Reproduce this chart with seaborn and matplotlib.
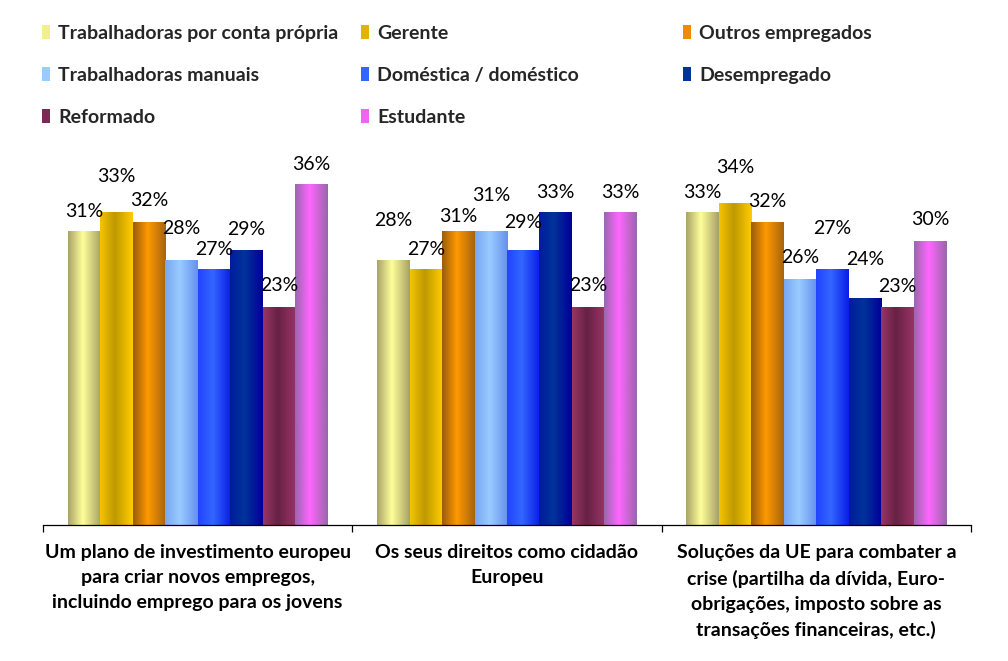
import numpy as np
import pandas as pd
import matplotlib
matplotlib.use("Agg")
import matplotlib.pyplot as plt
from matplotlib.patches import Patch
from matplotlib.colors import to_rgb
import seaborn as sns

# ---------------- data ----------------
categories = [
    "Um plano de investimento europeu\npara criar novos empregos,\nincluindo emprego para os jovens",
    "Os seus direitos como cidadão\nEuropeu",
    "Soluções da UE para combater a\ncrise (partilha da dívida, Euro-\nobrigações, imposto sobre as\ntransações financeiras, etc.)",
]
series = [
    "Trabalhadoras por conta própria", "Gerente", "Outros empregados",
    "Trabalhadoras manuais", "Doméstica / doméstico", "Desempregado",
    "Reformado", "Estudante",
]
trab_conta_propria = [31, 28, 33]
gerente = [33, 27, 34]
outros_empregados = [32, 31, 32]
trab_manuais = [28, 31, 26]
domestica = [27, 29, 27]
desempregado = [29, 33, 24]
reformado = [23, 23, 23]
estudante = [36, 33, 30]
values = [trab_conta_propria, gerente, outros_empregados, trab_manuais,
          domestica, desempregado, reformado, estudante]

# ---------------- styles ----------------
# (left edge, centre, right edge) of each bar's horizontal gradient
gradients = [
    ("#a9a46a", "#ffff99", "#a6a266"),
    ("#f5c400", "#bf9900", "#ffcc00"),
    ("#9a5c0c", "#ff9900", "#a8640e"),
    ("#7aa6f2", "#99ccff", "#6690ee"),
    ("#2244ff", "#3366ff", "#0a1ee6"),
    ("#001c9e", "#003399", "#000099"),
    ("#9a3466", "#662244", "#993366"),
    ("#9a66b0", "#ff66ff", "#9a66aa"),
]
legend_colors = ["#f0f090", "#e0b400", "#f08a00", "#99ccff",
                 "#3366ff", "#003399", "#7a2a55", "#ee66ee"]
# label offsets above bar tops, pixels  [category][series]
label_dy = [[20, 36, 21, 31, 20, 21, 22, 19],
            [39, 20, 15, 36, 28, 20, 22, 20],
            [20, 35, 20, 21, 41, 38, 21, 21]]

FONT = ["Lato", "DejaVu Sans"]
sns.set_theme(style="white")
plt.rcParams["font.family"] = FONT

df = pd.DataFrame({
    "categoria": np.repeat(np.arange(len(categories)), len(series)),
    "grupo": series * len(categories),
    "valor": [values[s][c] for c in range(len(categories)) for s in range(len(series))],
})

fig = plt.figure(figsize=(10.08, 6.61), dpi=100)
W, H = 1008, 661
ax = fig.add_axes([43 / W, 1 - 525 / H, (971 - 43) / W, (525 - 146) / H])

sns.barplot(data=df, x="categoria", y="valor", hue="grupo",
            hue_order=series, palette=[g[1] for g in gradients], width=0.84,
            linewidth=0, legend=False, ax=ax, errorbar=None)

# gradient fill + labels
for si, cont in enumerate(ax.containers):
    left, mid, right = [np.array(to_rgb(c)) for c in gradients[si]]
    t = np.linspace(0, 1, 64)
    grad = np.zeros((1, 64, 3))
    for k, tt in enumerate(t):
        if tt < 0.45:
            f = tt / 0.45
            grad[0, k] = left * (1 - f) + mid * f
        else:
            f = (tt - 0.45) / 0.55
            grad[0, k] = mid * (1 - f) + right * f
    for ci, bar in enumerate(cont):
        x0 = bar.get_x()
        w = bar.get_width()
        h = bar.get_height()
        im = ax.imshow(grad, extent=[x0, x0 + w, 0, h], aspect="auto",
                       interpolation="bilinear", zorder=bar.get_zorder() + 0.1)
        im.set_clip_path(bar)
        ax.annotate(f"{h:.0f}%", xy=(x0 + w / 2, h),
                    xytext=(0, label_dy[ci][si]), textcoords="offset pixels",
                    ha="center", va="center", fontsize=14, color="#000000",
                    family=FONT, zorder=5)

ax.set_xlim(-0.5, len(categories) - 0.5)
ax.set_ylim(0, 40)
ax.set_ylabel("")
ax.set_xlabel("")
ax.set_yticks([])
for sp in ["top", "right", "left"]:
    ax.spines[sp].set_visible(False)
ax.spines["bottom"].set_color("#000000")
ax.spines["bottom"].set_linewidth(0.9)
ax.set_xticks(range(len(categories)))
ax.set_xticklabels(categories, fontsize=14, fontweight="bold", linespacing=1.56,
                   color="#000000")
ax.set_xticks(np.arange(-0.5, len(categories), 1.0), minor=True)
ax.tick_params(axis="x", which="major", length=0, pad=14)
ax.tick_params(axis="x", which="minor", length=5, width=0.9, color="#000000",
               direction="out", bottom=True)

# legend: three columns, row-major order like the original
cols = [[0, 3, 6], [1, 4, 7], [2, 5]]
col_x = [42, 361, 683]
for xs, idxs in zip(col_x, cols):
    handles = [Patch(facecolor=legend_colors[i], edgecolor="none") for i in idxs]
    labels = [series[i] for i in idxs]
    fig.legend(handles, labels, loc="upper left",
               bbox_to_anchor=(xs / W, 1 - 25 / H), frameon=False,
               borderpad=0, borderaxespad=0, handlelength=0.42,
               handleheight=0.75, handletextpad=0.42, labelspacing=1.28,
               prop={"family": FONT, "weight": "bold", "size": 14})

fig.savefig("out.png", dpi=100, facecolor="white")
